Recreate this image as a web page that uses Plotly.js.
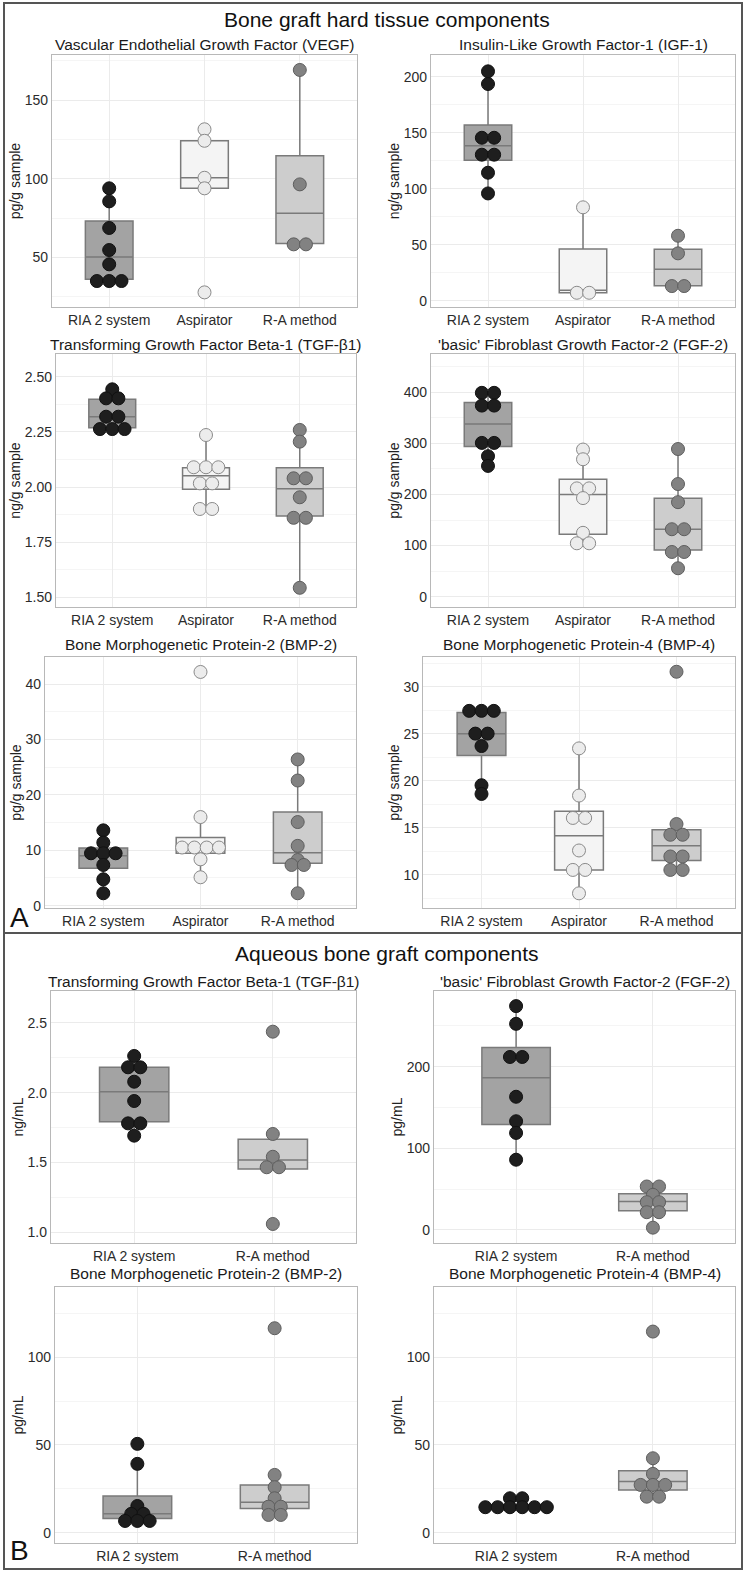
<!DOCTYPE html>
<html>
<head>
<meta charset="utf-8">
<script src="https://cdn.plot.ly/plotly-3.0.1.min.js"></script>
<style>
  body { margin: 0; background: #fff; }
  #chart { width: 746px; height: 1572px; }
</style>
</head>
<body>
<div id="chart"></div>
<script>
var W = 746, H = 1572;

var groups3 = ["RIA 2 system", "Aspirator", "R-A method"];
var groups2 = ["RIA 2 system", "R-A method"];

// box stats are [q1, median, q3, lower whisker, upper whisker]

// A: hard tissue
var vegf_ria = [93.9, 85.6, 68.7, 54.7, 45.6, 35, 35, 35];
var vegf_asp = [131.4, 124.1, 100.6, 93.9, 27.8];
var vegf_ra = [169.1, 96.4, 58.3, 58.3];
var vegf_box = [[36.1, 50.3, 73.1, 35, 93.9], [93.9, 100.6, 124.1, 93.9, 131.4], [58.9, 78, 114.6, 58.3, 169.1]];

var igf_ria = [204.8, 193.5, 145.5, 145.5, 130.4, 130.4, 114.3, 95.8];
var igf_asp = [83.4, 7.1, 7.1];
var igf_ra = [58.0, 42.3, 13.1, 13.1];
var igf_box = [[125.4, 138.4, 156.9, 95.8, 204.8], [7.1, 9.3, 46.2, 7.1, 83.4], [13.4, 28, 45.9, 13.1, 58.0]];

var tgf_ria = [2.443, 2.402, 2.402, 2.319, 2.319, 2.263, 2.263, 2.263];
var tgf_asp = [2.236, 2.09, 2.09, 2.09, 2.017, 2.017, 1.901, 1.901];
var tgf_ra = [2.259, 2.206, 2.04, 2.04, 1.954, 1.861, 1.861, 1.544];
var tgf_box = [[2.269, 2.319, 2.398, 2.263, 2.443], [1.99, 2.052, 2.088, 1.901, 2.236], [1.869, 1.993, 2.088, 1.544, 2.259]];

var fgf_ria = [399, 399, 374, 374, 301, 301, 275, 256];
var fgf_asp = [288, 269, 212, 212, 193, 125, 104.5, 104.5];
var fgf_ra = [289, 220.5, 185, 132, 132, 87.5, 87.5, 55.6];
var fgf_box = [[294, 338, 380, 256, 399], [122, 200, 230, 104.5, 288], [91.4, 132, 192.6, 55.6, 289]];

var bmp2_ria = [13.6, 11.4, 9.46, 9.46, 9.46, 7.35, 4.76, 2.24];
var bmp2_asp = [42.2, 16.0, 10.5, 10.5, 10.5, 10.5, 8.37, 5.13];
var bmp2_ra = [26.4, 22.6, 15.1, 10.8, 8.25, 7.35, 7.35, 2.24];
var bmp2_box = [[6.75, 9.03, 10.4, 2.24, 13.6], [9.46, 10.2, 12.3, 5.13, 16.0], [7.65, 9.57, 16.9, 2.24, 26.4]];

var bmp4_ria = [27.44, 27.44, 27.44, 25.02, 25.02, 23.7, 19.53, 18.6];
var bmp4_asp = [23.45, 18.43, 16.05, 16.05, 12.59, 10.52, 10.52, 8.03];
var bmp4_ra = [31.6, 15.4, 14.26, 14.26, 11.95, 11.95, 10.52, 10.52];
var bmp4_box = [[22.7, 25.0, 27.26, 18.6, 27.44], [10.52, 14.16, 16.75, 8.03, 23.45], [11.52, 13.09, 14.8, 10.52, 15.4]];

// B: aqueous
var aq_tgf_ria = [2.262, 2.181, 2.181, 2.078, 1.94, 1.78, 1.78, 1.692];
var aq_tgf_ra = [2.436, 1.704, 1.541, 1.466, 1.466, 1.06];
var aq_tgf_box = [[1.792, 2.006, 2.181, 1.692, 2.262], [1.453, 1.518, 1.666, 1.453, 1.704]];

var aq_fgf_ria = [274.1, 252.4, 211.8, 211.8, 163.1, 133.1, 118.8, 86.0];
var aq_fgf_ra = [53.2, 53.2, 43.0, 34.0, 34.0, 21.7, 21.7, 2.8];
var aq_fgf_box = [[129.1, 186.5, 223.3, 86, 274.1], [23.4, 34.8, 44.3, 2.8, 53.2]];

var aq_bmp2_ria = [50.6, 39.2, 15.2, 10.7, 10.7, 6.67, 6.67, 6.67];
var aq_bmp2_ra = [116.5, 32.9, 25.9, 19.6, 14.8, 14.8, 10.1, 10.1];
var aq_bmp2_box = [[8.0, 10.7, 20.9, 6.67, 39.2], [13.7, 17.3, 27.2, 10.1, 32.9]];

var aq_bmp4_ria = [19.6, 19.6, 14.5, 14.5, 14.5, 14.5, 14.5, 14.5];
var aq_bmp4_ra = [114.6, 42.4, 33.5, 27.2, 27.2, 27.2, 20.5, 20.5];
var aq_bmp4_box = [[14.5, 14.5, 15.8, 14.5, 15.8], [24.3, 29.1, 35.3, 20.5, 42.4]];

var boxFill = {"RIA 2 system": "#a3a3a3", "Aspirator": "#f4f4f4", "R-A method": "#cdcdcd"};
var dotFill = {"RIA 2 system": "#1e1e1e", "Aspirator": "#ececec", "R-A method": "#828282"};
var dotLine = {"RIA 2 system": "#111111", "Aspirator": "#8a8a8a", "R-A method": "#5e5e5e"};

// px = [left, right, top, bottom] of the panel, ty = subtitle centre
var panels = [
  {t: "Vascular Endothelial Growth Factor (VEGF)", yt: "pg/g sample", cats: groups3,
   vals: [vegf_ria, vegf_asp, vegf_ra], box: vegf_box, px: [52, 357, 55, 307], ty: 45, range: [18.5, 178.6], dtick: 50},
  {t: "Insulin-Like Growth Factor-1 (IGF-1)", yt: "ng/g sample", cats: groups3,
   vals: [igf_ria, igf_asp, igf_ra], box: igf_box, px: [431, 735, 55, 307], ty: 45, range: [-5.6, 219.4], dtick: 50},
  {t: "Transforming Growth Factor Beta-1 (TGF-β1)", yt: "ng/g sample", cats: groups3,
   vals: [tgf_ria, tgf_asp, tgf_ra], box: tgf_box, px: [56, 356, 354, 607], ty: 345, range: [1.457, 2.603], dtick: 0.25, fmt: ".2f"},
  {t: "'basic' Fibroblast Growth Factor-2 (FGF-2)", yt: "pg/g sample", cats: groups3,
   vals: [fgf_ria, fgf_asp, fgf_ra], box: fgf_box, px: [431, 735, 354, 607], ty: 345, range: [-20.2, 475], dtick: 100},
  {t: "Bone Morphogenetic Protein-2 (BMP-2)", yt: "pg/g sample", cats: groups3,
   vals: [bmp2_ria, bmp2_asp, bmp2_ra], box: bmp2_box, px: [45, 356, 657, 908], ty: 645, range: [-0.42, 44.9], dtick: 10},
  {t: "Bone Morphogenetic Protein-4 (BMP-4)", yt: "pg/g sample", cats: groups3,
   vals: [bmp4_ria, bmp4_asp, bmp4_ra], box: bmp4_box, px: [423, 735, 657, 908], ty: 645, range: [6.47, 33.17], dtick: 5},
  {t: "Transforming Growth Factor Beta-1 (TGF-β1)", yt: "ng/mL", cats: groups2,
   vals: [aq_tgf_ria, aq_tgf_ra], box: aq_tgf_box, px: [51, 356, 991, 1243], ty: 982, range: [0.924, 2.727], dtick: 0.5, fmt: ".1f"},
  {t: "'basic' Fibroblast Growth Factor-2 (FGF-2)", yt: "pg/mL", cats: groups2,
   vals: [aq_fgf_ria, aq_fgf_ra], box: aq_fgf_box, px: [434, 735, 991, 1243], ty: 982, range: [-16, 292.6], dtick: 100},
  {t: "Bone Morphogenetic Protein-2 (BMP-2)", yt: "pg/mL", cats: groups2,
   vals: [aq_bmp2_ria, aq_bmp2_ra], box: aq_bmp2_box, px: [55, 357, 1287, 1543], ty: 1273, range: [-5.9, 140], dtick: 50},
  {t: "Bone Morphogenetic Protein-4 (BMP-4)", yt: "pg/mL", cats: groups2,
   vals: [aq_bmp4_ria, aq_bmp4_ra], box: aq_bmp4_box, px: [434, 735, 1287, 1543], ty: 1273, range: [-5.9, 140], dtick: 50}
];

var font = "Liberation Sans, Arial, sans-serif";
var data = [];
var annotations = [];
var layout = {
  width: W, height: H,
  margin: {l: 0, r: 0, t: 0, b: 0},
  paper_bgcolor: "#ffffff",
  plot_bgcolor: "#ffffff",
  showlegend: false,
  font: {family: font, color: "#222"}
};

panels.forEach(function (p, k) {
  var n = k + 1;
  var sfx = n > 1 ? String(n) : "";
  var xa = "x" + sfx, ya = "y" + sfx;
  var xr = [-0.6, p.cats.length - 0.4];
  var pxPerUnit = (p.px[1] - p.px[0]) / (xr[1] - xr[0]);
  var step = 12.3 / pxPerUnit;

  // boxes first so dots sit on top
  p.cats.forEach(function (c, i) {
    var b = p.box[i];
    data.push({
      type: "box", x: [i],
      q1: [b[0]], median: [b[1]], q3: [b[2]], lowerfence: [b[3]], upperfence: [b[4]],
      width: 0.5, whiskerwidth: 0, boxpoints: false,
      fillcolor: boxFill[c], line: {color: "#7a7a7a", width: 1.5},
      xaxis: xa, yaxis: ya, hoverinfo: "skip"
    });
  });

  // dots stacked side by side where values tie
  p.cats.forEach(function (c, i) {
    var counts = {}, seen = {}, xs = [], ys = [];
    p.vals[i].forEach(function (v) { counts[v] = (counts[v] || 0) + 1; });
    p.vals[i].forEach(function (v) {
      var j = seen[v] || 0;
      seen[v] = j + 1;
      xs.push(i + (j - (counts[v] - 1) / 2) * step);
      ys.push(v);
    });
    data.push({
      type: "scatter", mode: "markers", x: xs, y: ys,
      marker: {size: 13, color: dotFill[c], line: {color: dotLine[c], width: 1}},
      cliponaxis: false, xaxis: xa, yaxis: ya, hoverinfo: "skip"
    });
  });

  layout["xaxis" + sfx] = {
    domain: [p.px[0] / W, p.px[1] / W], range: xr, anchor: ya,
    tickvals: p.cats.map(function (c, i) { return i; }), ticktext: p.cats,
    showgrid: true, gridcolor: "#ebebeb", zeroline: false,
    showline: true, mirror: true, linecolor: "#b8b8b8", linewidth: 1.2,
    ticks: "", tickfont: {size: 14, color: "#2b2b2b", family: font}, fixedrange: true
  };
  layout["yaxis" + sfx] = {
    domain: [1 - p.px[3] / H, 1 - p.px[2] / H], range: p.range, anchor: xa,
    tick0: 0, dtick: p.dtick, tickformat: p.fmt || "",
    showgrid: true, gridcolor: "#ebebeb", zeroline: false,
    minor: {dtick: p.dtick / 2, tick0: 0, showgrid: true, gridcolor: "#f5f5f5"},
    showline: true, mirror: true, linecolor: "#b8b8b8", linewidth: 1.2,
    ticks: "", tickfont: {size: 14, color: "#2b2b2b", family: font},
    title: {text: p.yt, font: {size: 14, color: "#222", family: font}, standoff: 0},
    fixedrange: true
  };

  annotations.push({
    text: p.t, xref: "paper", yref: "paper",
    x: (p.px[0] + p.px[1]) / 2 / W, y: 1 - p.ty / H,
    xanchor: "center", yanchor: "middle", showarrow: false,
    font: {size: 15.5, color: "#1a1a1a", family: font}
  });
});

var sections = [
  {text: "Bone graft hard tissue components", y: 20},
  {text: "Aqueous bone graft components", y: 953}
];
sections.forEach(function (s) {
  annotations.push({
    text: s.text, xref: "paper", yref: "paper", x: 387 / W, y: 1 - s.y / H,
    xanchor: "center", yanchor: "middle", showarrow: false,
    font: {size: 21, color: "#111", family: font}
  });
});

[{text: "A", y: 917}, {text: "B", y: 1550}].forEach(function (s) {
  annotations.push({
    text: s.text, xref: "paper", yref: "paper", x: 19 / W, y: 1 - s.y / H,
    xanchor: "center", yanchor: "middle", showarrow: false,
    font: {size: 28, color: "#111", family: font}
  });
});

layout.annotations = annotations;
layout.shapes = [
  {type: "rect", xref: "paper", yref: "paper", x0: 4 / W, x1: 742 / W, y0: 1 - 1569 / H, y1: 1 - 3 / H,
   line: {color: "#555", width: 2}},
  {type: "line", xref: "paper", yref: "paper", x0: 4 / W, x1: 742 / W, y0: 1 - 933 / H, y1: 1 - 933 / H,
   line: {color: "#555", width: 2}}
];

Plotly.newPlot("chart", data, layout, {staticPlot: true, displayModeBar: false});
</script>
</body>
</html>
